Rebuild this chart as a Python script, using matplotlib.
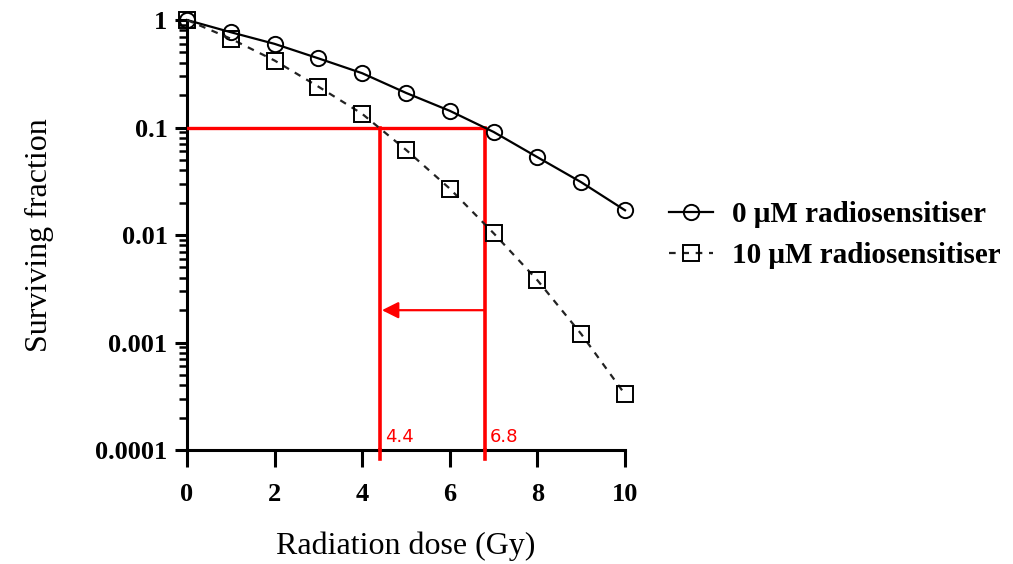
import matplotlib
matplotlib.use("Agg")
import matplotlib.pyplot as plt
import numpy as np

# clonogenic survival, read per dose point
dose = [0, 1, 2, 3, 4, 5, 6, 7, 8, 9, 10]
sf_control = [1.0, 0.77, 0.60, 0.44, 0.32, 0.21, 0.143, 0.091, 0.053, 0.031, 0.017]
sf_treated = [1.0, 0.67, 0.42, 0.24, 0.134, 0.062, 0.027, 0.0104, 0.0038, 0.0012, 0.00033]
labels = ["0 \u03bcM radiosensitiser", "10 \u03bcM radiosensitiser"]

sf_target = 0.1
d_control = 6.8
d_treated = 4.4
arrow_y = 0.002

serif = "Liberation Serif"

fig = plt.figure(figsize=(10.13, 5.64), dpi=100)
ax = fig.add_axes([0.1846, 0.202, 0.4324, 0.7625])

ax.plot(dose, sf_control, "-", color="black", lw=1.6, marker="o", ms=11,
        mfc="none", mec="black", mew=1.4, clip_on=False, label=labels[0], zorder=4)
ax.plot(dose, sf_treated, "--", color="#222222", lw=1.6, marker="s", ms=11,
        mfc="none", mec="black", mew=1.4, clip_on=False, label=labels[1],
        dashes=(3, 3), zorder=4)

# D10 read-offs
red = "#ff0000"
ax.plot([0, d_control], [sf_target, sf_target], color=red, lw=2.4, zorder=3)
ax.plot([d_control, d_control], [sf_target, 1e-4], color=red, lw=2.6, zorder=3)
ax.plot([d_treated, d_treated], [sf_target, 1e-4], color=red, lw=2.6, zorder=3)
for xd in (d_control, d_treated):
    ax.plot([xd, xd], [1e-4, 8.3e-5], color=red, lw=2.6, clip_on=False, zorder=3)
ax.annotate("", xy=(d_treated + 0.05, arrow_y), xytext=(d_control, arrow_y),
            arrowprops=dict(arrowstyle="-|>,head_length=1.0,head_width=0.5",
                            color=red, lw=1.6, shrinkA=0, shrinkB=0))
ax.text(d_treated + 0.12, 1.2e-4, str(d_treated), color=red, fontsize=13)
ax.text(d_control + 0.12, 1.2e-4, str(d_control), color=red, fontsize=13)

ax.set_yscale("log")
ax.set_ylim(1e-4, 1)
ax.set_xlim(0, 10)
ax.set_xticks([0, 2, 4, 6, 8, 10])
ax.set_yticks([1e-4, 1e-3, 1e-2, 1e-1, 1])
ax.set_yticklabels(["0.0001", "0.001", "0.01", "0.1", "1"])

for s in ("top", "right"):
    ax.spines[s].set_visible(False)
for s in ("left", "bottom"):
    ax.spines[s].set_linewidth(2.2)

ax.tick_params(axis="x", which="major", direction="out", length=12, width=2.2, pad=12)
ax.tick_params(axis="y", which="major", direction="out", length=9, width=2.2, pad=5)
ax.tick_params(axis="y", which="minor", direction="out", length=6, width=1.8)

for lab in ax.get_xticklabels() + ax.get_yticklabels():
    lab.set_fontfamily(serif)
    lab.set_fontweight("bold")
    lab.set_fontsize(19)

ax.set_xlabel("Radiation dose (Gy)", family=serif, fontsize=23, labelpad=18)
ax.set_ylabel("Surviving fraction", family=serif, fontsize=23, labelpad=30)

leg = ax.legend(loc="center left", bbox_to_anchor=(1.04, 0.5), frameon=False,
                prop=dict(family=serif, weight="bold", size=21), handlelength=1.5,
                handletextpad=0.65, markerscale=1.0, labelspacing=0.5)

fig.savefig("out.png", dpi=100)
